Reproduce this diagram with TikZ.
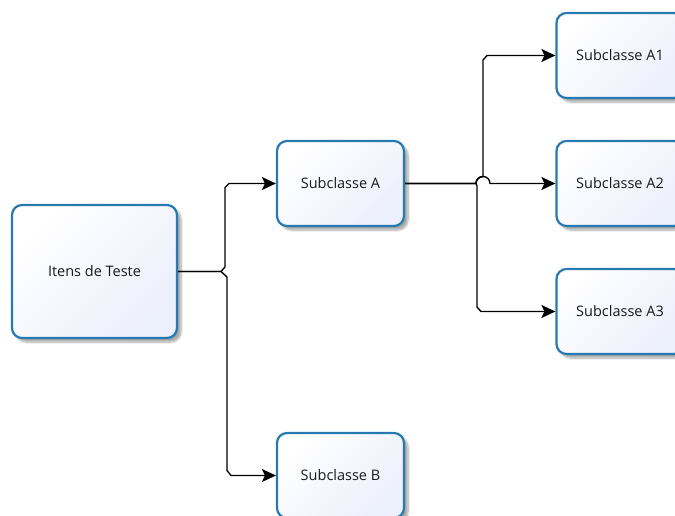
\documentclass[tikz,border=0pt]{standalone}
\usepackage{fontspec}
\setmainfont{Open Sans}
\usetikzlibrary{shadows.blur,arrows.meta}
\definecolor{boxline}{RGB}{38,122,176}
\definecolor{boxfill}{RGB}{236,239,252}
\tikzset{
  cls/.style={draw=boxline, line width=2.2pt, rounded corners=10pt,
    shading=axis, left color=white, right color=boxfill, shading angle=45,
    blur shadow={shadow xshift=4pt, shadow yshift=-4pt, shadow blur steps=8, shadow opacity=35},
    font=\fontsize{14.5}{16}\selectfont, text=black!90, inner sep=0pt},
  conn/.style={line width=1.4pt, black, -{Stealth[length=14pt,width=13pt,inset=3pt]}},
}
\begin{document}
\begin{tikzpicture}[x=1pt,y=-1pt]
\useasboundingbox (0,0) rectangle (675,516);
\clip (0,0) rectangle (675,516);
\node[cls, minimum width=165pt, minimum height=133pt] (it) at (94.5,271.5) {Itens de Teste};
\node[cls, minimum width=127pt, minimum height=85pt] (a) at (340.5,183.5) {Subclasse A};
\node[cls, minimum width=127pt, minimum height=85pt] (b) at (340.5,475.5) {Subclasse B};
\node[cls, minimum width=127pt, minimum height=85pt] (a1) at (620,55.5) {Subclasse A1};
\node[cls, minimum width=127pt, minimum height=85pt] (a2) at (620,183.5) {Subclasse A2};
\node[cls, minimum width=127pt, minimum height=85pt] (a3) at (620,311.5) {Subclasse A3};
% Itens -> A / B
\draw[conn] (it.east) -- (221,271.5) -- (225,267) -- (225,187.5) -- (229,183.5) -- (a.west);
\draw[conn] (it.east) -- (221,271.5) -- (227,277) -- (227,470.5) -- (231,475.5) -- (b.west);
% A -> A1 / A2 / A3
\draw[conn] (a.east) -- (476,183.5) arc[start angle=180, end angle=270, radius=7] -- (483,60) -- (487,55.5) -- (a1.west);
\draw[conn] (a.east) -- (476,183.5) arc[start angle=180, end angle=360, radius=7] -- (a2.west);
\draw[conn] (a.east) -- (476,183.5) -- (477,186) -- (477,307) -- (481,311.5) -- (a3.west);
\end{tikzpicture}
\end{document}
